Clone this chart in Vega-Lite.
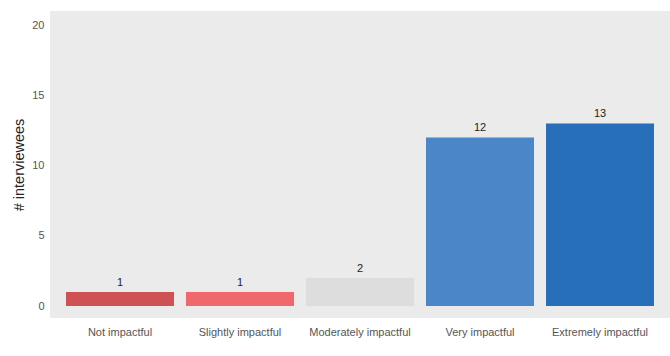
{
  "$schema": "https://vega.github.io/schema/vega-lite/v6.json",
  "autosize": {"type": "none"},
  "width": 620,
  "height": 307,
  "padding": {"left": 50, "top": 11, "right": 0, "bottom": 38},
  "background": "#ffffff",
  "config": {
    "view": {"fill": "#ebebeb", "stroke": null},
    "font": "Liberation Sans"
  },
  "data": {
    "values": [
      {"impact": "Not impactful", "count": 1},
      {"impact": "Slightly impactful", "count": 1},
      {"impact": "Moderately impactful", "count": 2},
      {"impact": "Very impactful", "count": 12},
      {"impact": "Extremely impactful", "count": 13}
    ]
  },
  "encoding": {
    "x": {
      "field": "impact",
      "type": "nominal",
      "sort": null,
      "scale": {"paddingInner": 0.1, "paddingOuter": 0.1333},
      "axis": {
        "title": null,
        "labelAngle": 0,
        "ticks": false,
        "domain": false,
        "grid": false,
        "labelFontSize": 11,
        "labelColor": "#555555",
        "labelPadding": 8
      }
    },
    "y": {
      "field": "count",
      "type": "quantitative",
      "scale": {"domain": [-0.85, 21], "nice": false, "zero": false},
      "axis": {
        "title": "# interviewees",
        "titleFontSize": 14.5,
        "titleFontWeight": "normal",
        "titleColor": "#222222",
        "titlePadding": 5,
        "values": [0, 5, 10, 15, 20],
        "ticks": false,
        "domain": false,
        "grid": false,
        "labelFontSize": 11,
        "labelColor": "#555555",
        "labelPadding": 6
      }
    }
  },
  "layer": [
    {
      "mark": {"type": "bar"},
      "encoding": {
        "y2": {"datum": 0},
        "color": {
          "field": "impact",
          "type": "nominal",
          "sort": null,
          "scale": {
            "domain": ["Not impactful", "Slightly impactful", "Moderately impactful", "Very impactful", "Extremely impactful"],
            "range": ["#ce5254", "#f0686b", "#dddddd", "#4a86c8", "#276fb8"]
          },
          "legend": null
        }
      }
    },
    {
      "mark": {"type": "text", "baseline": "bottom", "dy": -4, "fontSize": 11, "color": "#222222"},
      "encoding": {
        "text": {"field": "count", "type": "quantitative"}
      }
    }
  ]
}
